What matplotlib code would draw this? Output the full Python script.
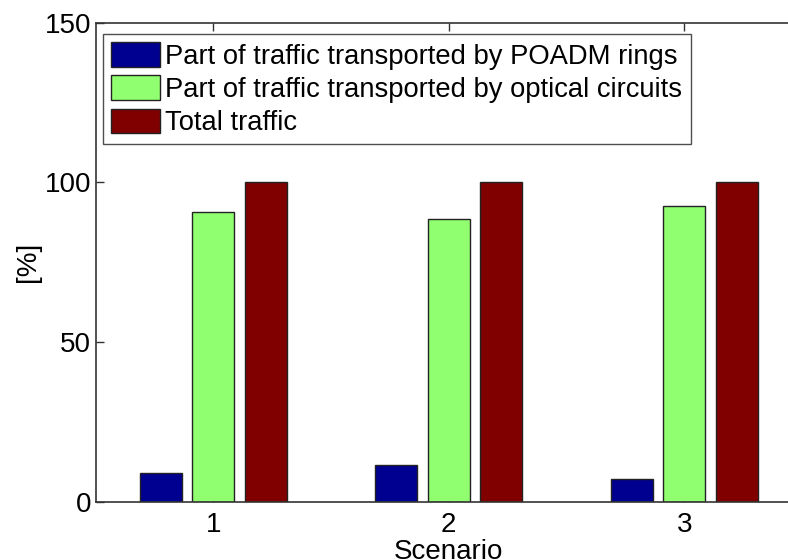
import numpy as np
import matplotlib
matplotlib.use("Agg")
import matplotlib.pyplot as plt

plt.rcParams['font.family'] = ['Liberation Sans', 'DejaVu Sans']

scenarios = [1, 2, 3]
poadm_rings = [9.2, 11.7, 7.2]
optical_circuits = [90.9, 88.6, 92.5]
total_traffic = [100, 100, 100]

series_labels = [
    "Part of traffic transported by POADM rings",
    "Part of traffic transported by optical circuits",
    "Total traffic",
]
colors = ["#000090", "#90FF70", "#800000"]

W, H = 788, 560
fig = plt.figure(figsize=(W / 100, H / 100), dpi=100)
left, right = 95.5, 802.0
top, bottom = 22.7, 502.0
ax = fig.add_axes([left / W, (H - bottom) / H, (right - left) / W, (bottom - top) / H])

x = np.array(scenarios, dtype=float)
group_w = min(0.8, 3 / (3 + 1.5))
step = group_w / 3
bar_w = step * 0.8
for i, (vals, lab, col) in enumerate(zip([poadm_rings, optical_circuits, total_traffic],
                                          series_labels, colors)):
    ax.bar(x + (i - 1) * step, vals, width=bar_w, color=col, edgecolor="#222222",
           linewidth=1.0, label=lab, zorder=2)

ax.set_xlim(0.5, 3.5)
ax.set_ylim(0, 150)
ax.set_xticks(scenarios)
ax.set_xticklabels([str(s) for s in scenarios])
ax.set_yticks([0, 50, 100, 150])
ax.tick_params(direction="in", length=6, width=1, labelsize=20, top=True, right=False,
               color="#333333")
ax.tick_params(axis="y", pad=3)
ax.tick_params(axis="x", pad=7)
for sp in ax.spines.values():
    sp.set_linewidth(1.2)
    sp.set_color("#333333")
# the right border lies past the figure's edge
ax.spines["right"].set_visible(False)
ax.set_xlabel("Scenario", fontsize=20, labelpad=1)
ax.set_ylabel("[%]", fontsize=20, labelpad=3)

leg = ax.legend(loc="upper left", bbox_to_anchor=(7.5 / (right - left), 1 - 11.5 / (bottom - top)),
                fontsize=19.7, frameon=True, fancybox=False, edgecolor="#222222",
                borderaxespad=0, handlelength=1.8, handleheight=1.0, handletextpad=0.18,
                labelspacing=0.2, borderpad=0.3)
leg.get_frame().set_linewidth(1.0)

fig.savefig("out.png", dpi=100)
